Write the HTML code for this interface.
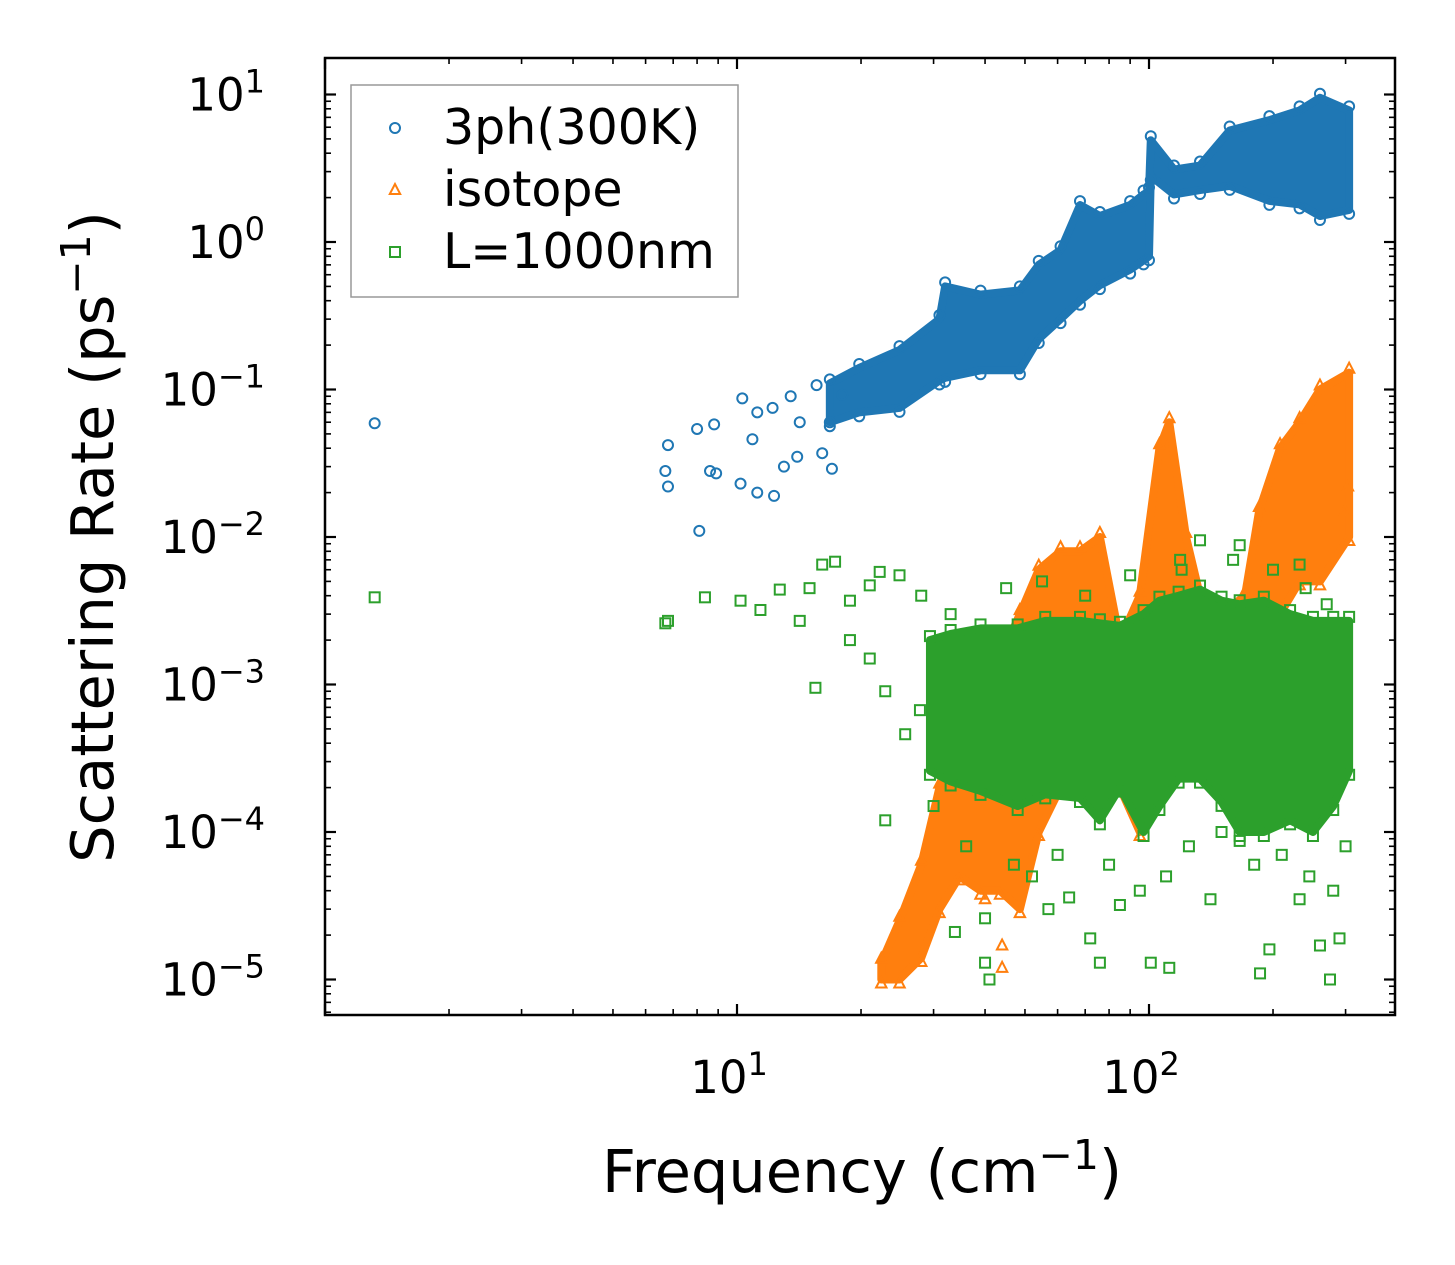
<!DOCTYPE html>
<html><head><meta charset="utf-8"><style>
html,body{margin:0;padding:0;background:#fff}
svg{display:block}
text{font-family:"DejaVu Sans","Liberation Sans",sans-serif;fill:#000}
</style></head><body>
<svg id="chart" width="1455" height="1265" viewBox="0 0 1455 1265" xmlns="http://www.w3.org/2000/svg">
<g id="marks"></g>
<g id="axes"></g>
</svg>
<script>
// ---- data ----
const blueFreq=[1.32,6.7,6.8,6.8,8.0,8.1,8.6,8.9,8.8,10.2,10.3,10.9,11.2,11.2,12.3,13,14,12.2,13.5,14.2,16.1,17.0,15.6,16.8,18];
const blueVal=[0.059,0.028,0.022,0.042,0.054,0.011,0.028,0.027,0.058,0.023,0.087,0.046,0.02,0.07,0.019,0.03,0.035,0.075,0.09,0.06,0.037,0.029,0.107,0.06,0.092];
const blueBandFreq=[16.8,19.8,24.8,31,32,39,48.6,54,61,68,76,90,97,100,101,115,133,157,196,232,260,306];
const blueBandLo=[0.06,0.07,0.075,0.115,0.12,0.135,0.135,0.22,0.3,0.4,0.51,0.65,0.75,0.8,2.8,2.1,2.25,2.4,1.9,1.8,1.5,1.65];
const blueBandHi=[0.11,0.14,0.185,0.3,0.5,0.44,0.47,0.7,0.88,1.78,1.5,1.78,2.1,2.2,4.9,3.1,3.3,5.7,6.7,7.8,9.5,7.8];

const orangeFreq=[44,44,40,304,299];
const orangeVal=[1.7e-5,1.2e-5,3.5e-5,0.022,0.015];
const orangeBandFreq=[22.4,24.8,28,31,34.7,39,43.5,48.6,54,61,68,76,85,95,106,112,123,133,150,171,185,208,232,260,306];
const orangeBandLo=[1.0e-5,1.0e-5,1.4e-5,3e-5,5e-5,4e-5,4e-5,3e-5,1e-4,2e-4,3e-4,3e-4,2e-4,1e-4,5e-4,1e-3,1e-3,1e-3,1e-3,1e-3,2e-3,3e-3,5e-3,5e-3,1e-2];
const orangeBandHi=[1.3e-5,2.5e-5,6e-5,2e-4,4e-4,4e-4,1.5e-3,3e-3,6e-3,8e-3,8e-3,1e-2,2e-3,4e-3,4e-2,6e-2,1e-2,4e-3,3e-3,4e-3,1.5e-2,4e-2,6e-2,0.1,0.13];

const greenFreq=[1.32,6.7,6.8,8.36,10.2,11.4,12.7,14.2,15.0,16.1,17.3,18.8,21.0,22.2,24.8,15.5,18.8,21.0,22.9,22.9,25.6,27.8,33.8,40,40,41,57,64,72,76,85,101,112,141,150,166,186,196,232,260,275,290,119,133,166,232,30,36,47,52,60,80,95,110,125,180,210,245,280,300,28,33,45,55,70,90,120,160,200,240,270];
const greenVal=[0.0039,0.0026,0.0027,0.0039,0.0037,0.0032,0.0044,0.0027,0.0045,0.0065,0.0068,0.0037,0.0047,0.0058,0.0055,9.5e-4,0.002,0.0015,9e-4,1.2e-4,4.6e-4,6.7e-4,2.1e-5,2.6e-5,1.3e-5,1.0e-5,3e-5,3.6e-5,1.9e-5,1.3e-5,3.2e-5,1.3e-5,1.2e-5,3.5e-5,1.0e-4,8.7e-5,1.1e-5,1.6e-5,3.5e-5,1.7e-5,1.0e-5,1.9e-5,0.007,0.0095,0.0088,0.0065,1.5e-4,8e-5,6e-5,5e-5,7e-5,6e-5,4e-5,5e-5,8e-5,6e-5,7e-5,5e-5,4e-5,8e-5,0.004,0.003,0.0045,0.005,0.004,0.0055,0.006,0.007,0.006,0.0045,0.0035];
const greenBandFreq=[29.4,33,39,48,56,68,76,85,97,106,118,133,150,166,190,220,250,280,306];
const greenBandLo=[2.6e-4,2.2e-4,1.9e-4,1.5e-4,1.8e-4,1.7e-4,1.2e-4,2e-4,1e-4,1.5e-4,2.3e-4,2.3e-4,1.6e-4,1e-4,1e-4,1.2e-4,1e-4,1.5e-4,2.6e-4];
const greenBandHi=[2.0e-3,2.2e-3,2.4e-3,2.4e-3,2.7e-3,2.7e-3,2.6e-3,2.5e-3,3e-3,3.7e-3,4e-3,4.4e-3,3.7e-3,3.5e-3,3.7e-3,3e-3,2.7e-3,2.7e-3,2.7e-3];

const xMajor=[10,100];
const xMajorExp=["1","2"];
const yMajor=[10,1,0.1,0.01,0.001,1e-4,1e-5];
const yMajorExp=["1","0","\u22121","\u22122","\u22123","\u22124","\u22125"];

// ---- scales ----
const L=325,R=1395,T=58,B=1015;
function X(f){return 737+412*(Math.log10(f)-1);}
function Y(v){return 242-147.5*Math.log10(v);}
const NS="http://www.w3.org/2000/svg";
const marks=document.getElementById('marks'),axes=document.getElementById('axes');
function mk(tag,attrs,parent){const e=document.createElementNS(NS,tag);for(const k in attrs)e.setAttribute(k,attrs[k]);parent.appendChild(e);return e;}
const COL={blue:'#1f77b4',orange:'#ff7f0e',green:'#2ca02c'};

function marker(kind,cx,cy,col,parent){
  let e;
  if(kind==='o'){e=mk('circle',{cx:cx,cy:cy,r:5,fill:'none',stroke:col,'stroke-width':2},parent);}
  else if(kind==='^'){e=mk('polygon',{points:`${cx},${cy-6} ${cx-5.2},${cy+4} ${cx+5.2},${cy+4}`,fill:'none',stroke:col,'stroke-width':2},parent);}
  else {e=mk('rect',{x:cx-5,y:cy-5,width:10,height:10,fill:'none',stroke:col,'stroke-width':2},parent);}
  return e;
}
function series(name,kind,col,bf,lo,hi,pf,pv){
  const g=mk('g',{},marks);
  
  
  let pts=[];
  for(let i=0;i<bf.length;i++)pts.push(X(bf[i])+','+Y(hi[i]));
  for(let i=bf.length-1;i>=0;i--)pts.push(X(bf[i])+','+Y(lo[i]));
  const band=mk('polygon',{points:pts.join(' '),fill:col,stroke:col,'stroke-width':8,'stroke-linejoin':'round'},g);
  
  
  for(let i=0;i<bf.length;i++){
    const a=marker(kind,X(bf[i]),Y(hi[i])-4,col,g);
    
    
    const b=marker(kind,X(bf[i]),Y(lo[i])+4,col,g);
    
    
  }
  for(let i=0;i<pf.length;i++){
    const p=marker(kind,X(pf[i]),Y(pv[i]),col,g);
    
    
  }
}
series('3ph','o',COL.blue,blueBandFreq,blueBandLo,blueBandHi,blueFreq,blueVal);
series('isotope','^',COL.orange,orangeBandFreq,orangeBandLo,orangeBandHi,orangeFreq,orangeVal);
series('boundary','s',COL.green,greenBandFreq,greenBandLo,greenBandHi,greenFreq,greenVal);

// ---- axes ----
const frame=mk('rect',{x:L,y:T,width:R-L,height:B-T,fill:'none',stroke:'#000','stroke-width':2.5},axes);


function tick(x1,y1,x2,y2,w){mk('line',{x1:x1,y1:y1,x2:x2,y2:y2,stroke:'#000','stroke-width':w},axes);}
for(let d=0;d<3;d++){for(let m=1;m<10;m++){const f=m*Math.pow(10,d);const x=X(f);if(x<L||x>R)continue;
  const major=(m===1);const len=major?11:6;const w=major?2.2:1.6;
  tick(x,B,x,B-len,w);tick(x,T,x,T+len,w);}}
xMajor.forEach((f,i)=>{const t=mk('text',{x:X(f)-8,y:1093,'font-size':45,'text-anchor':'middle'},axes);
  
  
  t.textContent='10';const s=mk('tspan',{dy:-18,'font-size':32},t);s.textContent=xMajorExp[i];});
for(let d=-6;d<2;d++){for(let m=1;m<10;m++){const v=m*Math.pow(10,d);const y=Y(v);if(y<T||y>B)continue;
  const major=(m===1);const len=major?11:6;const w=major?2.2:1.6;
  tick(L,y,L+len,y,w);tick(R,y,R-len,y,w);}}
yMajor.forEach((v,i)=>{const t=mk('text',{x:265,y:Y(v)+16,'font-size':45,'text-anchor':'end'},axes);
  
  
  t.textContent='10';const s=mk('tspan',{dy:-18,'font-size':32,'text-anchor':'start'},t);s.textContent=yMajorExp[i];});
const xt=mk('text',{x:862,y:1192,'font-size':59,'text-anchor':'middle'},axes);


xt.textContent='Frequency (cm';let s1=mk('tspan',{dy:-23,'font-size':41},xt);s1.textContent='\u22121';let s2=mk('tspan',{dy:23},xt);s2.textContent=')';
const yt=mk('text',{x:0,y:0,'font-size':59,'text-anchor':'middle',transform:'translate(113,537) rotate(-90)'},axes);


yt.textContent='Scattering Rate (ps';let s3=mk('tspan',{dy:-23,'font-size':41},yt);s3.textContent='\u22121';let s4=mk('tspan',{dy:23},yt);s4.textContent=')';
const lg=mk('g',{},axes);


mk('rect',{x:351,y:85,width:387,height:212,fill:'#fff',stroke:'#999','stroke-width':1.5},lg);
const labels=['3ph(300K)','isotope','L=1000nm'];const kinds=['o','^','s'];const cols=[COL.blue,COL.orange,COL.green];
for(let i=0;i<3;i++){const y=127+62*i;marker(kinds[i],395,y+1,cols[i],lg);
  const t=mk('text',{x:443,y:y+17,'font-size':49},lg);
  
  
  t.textContent=labels[i];}
</script>
</body></html>
